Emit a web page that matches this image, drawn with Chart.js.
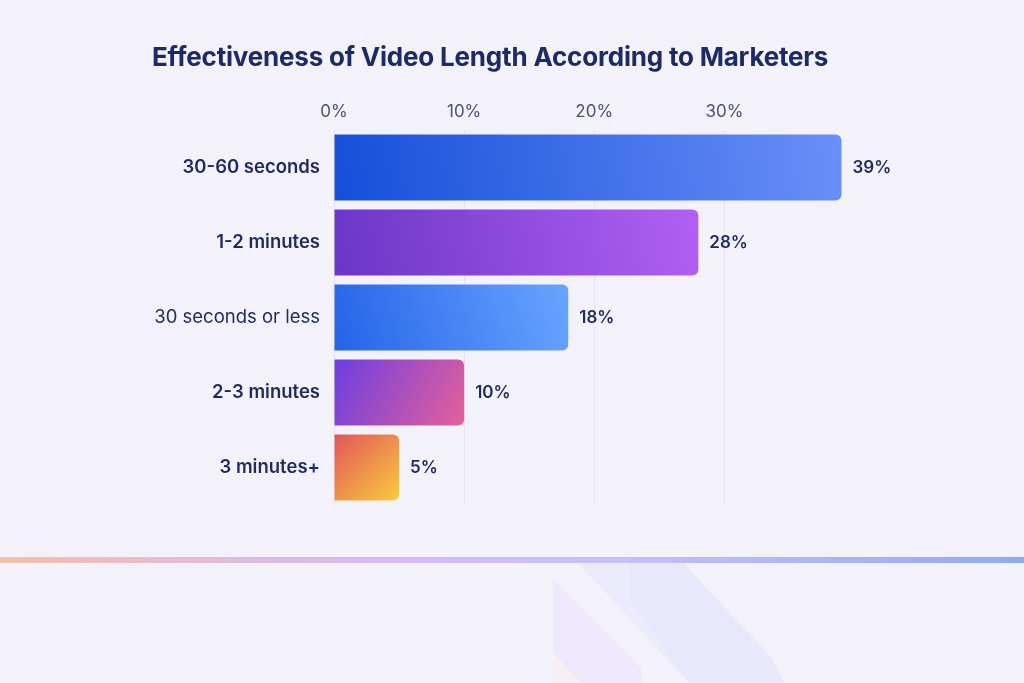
<!DOCTYPE html>
<html lang="en">
<head>
<meta charset="utf-8">
<title>Effectiveness of Video Length According to Marketers</title>
<script src="https://cdn.jsdelivr.net/npm/chart.js@4.4.1/dist/chart.umd.min.js"></script>
<style>
    html, body {
        margin: 0;
        padding: 0;
        background: #f3f2fb;
        overflow: hidden;
    }
    .page {
        position: relative;
        width: 1024px;
        height: 683px;
        overflow: hidden;
    }
    .title {
        position: absolute;
        left: 152px;
        top: 44px;
        margin: 0;
        font-family: Inter, "Noto Sans", sans-serif;
        font-weight: 700;
        font-size: 26px;
        line-height: 26px;
        letter-spacing: -0.2px;
        color: #1d2a66;
        z-index: 2;
        white-space: nowrap;
    }
    .rule {
        position: absolute;
        left: 0;
        top: 557px;
        width: 1024px;
        height: 6px;
        background: linear-gradient(90deg, #f4c0a8 0%, #dcb8ec 30%, #d2b9fa 45%, #c6bffa 60%, #a9b6fa 80%, #8eaaf7 100%);
    }
    .shape {
        position: absolute;
        top: 0;
        left: 0;
        width: 1024px;
        height: 683px;
    }
    .shape.cream {
        background: #f6eef2;
        clip-path: polygon(553px 652px, 580px 683px, 553px 683px);
    }
    .shape.pink {
        background: #efe7fb;
        clip-path: polygon(553px 579px, 641px 668px, 641px 683px, 580px 683px, 553px 652px);
    }
    .shape.blue {
        background: #ebebfb;
        clip-path: polygon(578px 563px, 683px 563px, 771px 657px, 784px 683px, 689px 683px);
    }
    .shape.blue2 {
        background: #e7e8fb;
        clip-path: polygon(630px 563px, 683px 563px, 771px 657px, 784px 683px, 689px 683px, 630px 600px);
    }
    .chart-box {
        position: absolute;
        inset: 0;
        z-index: 1;
    }
</style>
</head>
<body>
<div class="page">
    <div class="shape blue"></div>
    <div class="shape blue2"></div>
    <div class="shape pink"></div>
    <div class="shape cream"></div>
    <div class="rule"></div>
    <h1 class="title">Effectiveness of Video Length According to Marketers</h1>
    <div class="chart-box"><canvas id="lengthChart"></canvas></div>
</div>
<script>
    const categories = ["30-60 seconds", "1-2 minutes", "30 seconds or less", "2-3 minutes", "3 minutes+"];
    const shares = [39, 28, 18, 10, 5];
    const xTicks = [0, 10, 20, 30];

    // gradient stops per bar: [start colour, end colour]
    const barGradients = [
        ["#154fd9", "#6a8ff8"],
        ["#6a36c6", "#b260f3"],
        ["#2563e9", "#68a5ff"],
        ["#6b3ee2", "#e6609a"],
        ["#e2545c", "#f9cc3c"]
    ];
    const labelWeights = [600, 600, 400, 600, 600];

    const navy = "#1f2a5e";
    const fontFamily = "Inter, 'Noto Sans', sans-serif";

    const barFill = (context) => {
        const chart = context.chart;
        if (!chart.chartArea) return barGradients[context.dataIndex][0];
        const xScale = chart.scales.x;
        const yScale = chart.scales.y;
        const i = context.dataIndex;
        const x0 = xScale.getPixelForValue(0);
        const x1 = xScale.getPixelForValue(shares[i]);
        const yc = yScale.getPixelForValue(i);
        const half = 34;
        const [from, to] = barGradients[i];
        // blue/purple bars fade bottom-left to top-right, the short ones top-left to bottom-right
        const g = (i === 3 || i === 4)
            ? chart.ctx.createLinearGradient(x0, yc - half, x1, yc + half)
            : chart.ctx.createLinearGradient(x0, yc + half, x1, yc - half);
        g.addColorStop(0, from);
        g.addColorStop(1, to);
        return g;
    };

    const valueLabels = {
        id: "valueLabels",
        afterDatasetsDraw(chart) {
            const { ctx } = chart;
            const meta = chart.getDatasetMeta(0);
            ctx.save();
            ctx.font = `600 17px ${fontFamily}`;
            ctx.fillStyle = navy;
            ctx.textAlign = "left";
            ctx.textBaseline = "middle";
            meta.data.forEach((bar, i) => {
                ctx.fillText(`${shares[i]}%`, bar.x + 11, bar.y);
            });
            ctx.restore();
        }
    };

    new Chart(document.getElementById("lengthChart"), {
        type: "bar",
        data: {
            labels: categories,
            datasets: [{
                data: shares,
                backgroundColor: barFill,
                borderRadius: 6,
                borderSkipped: "start",
                barPercentage: 0.88,
                categoryPercentage: 1
            }]
        },
        options: {
            indexAxis: "y",
            responsive: true,
            maintainAspectRatio: false,
            animation: false,
            layout: {
                padding: { top: 90, right: 176, bottom: 178, left: 0 }
            },
            plugins: {
                legend: { display: false },
                tooltip: { enabled: false }
            },
            scales: {
                x: {
                    position: "top",
                    min: 0,
                    max: 39.5,
                    afterFit: (scale) => { scale.height = 40; },
                    afterBuildTicks: (scale) => {
                        scale.ticks = xTicks.map((v) => ({ value: v }));
                    },
                    ticks: {
                        padding: 8,
                        color: "#4a5274",
                        font: { family: fontFamily, size: 17, weight: 400 },
                        callback: (v) => `${v}%`
                    },
                    grid: {
                        color: "rgba(40, 50, 100, 0.08)",
                        drawTicks: false
                    },
                    border: { display: false }
                },
                y: {
                    afterFit: (scale) => { scale.width = 334; },
                    ticks: {
                        padding: 14,
                        color: navy,
                        font: (ctx) => ({ family: fontFamily, size: 18.5, weight: labelWeights[ctx.index] })
                    },
                    grid: { display: false, drawTicks: false },
                    border: { display: false }
                }
            }
        },
        plugins: [valueLabels]
    });
</script>
</body>
</html>
